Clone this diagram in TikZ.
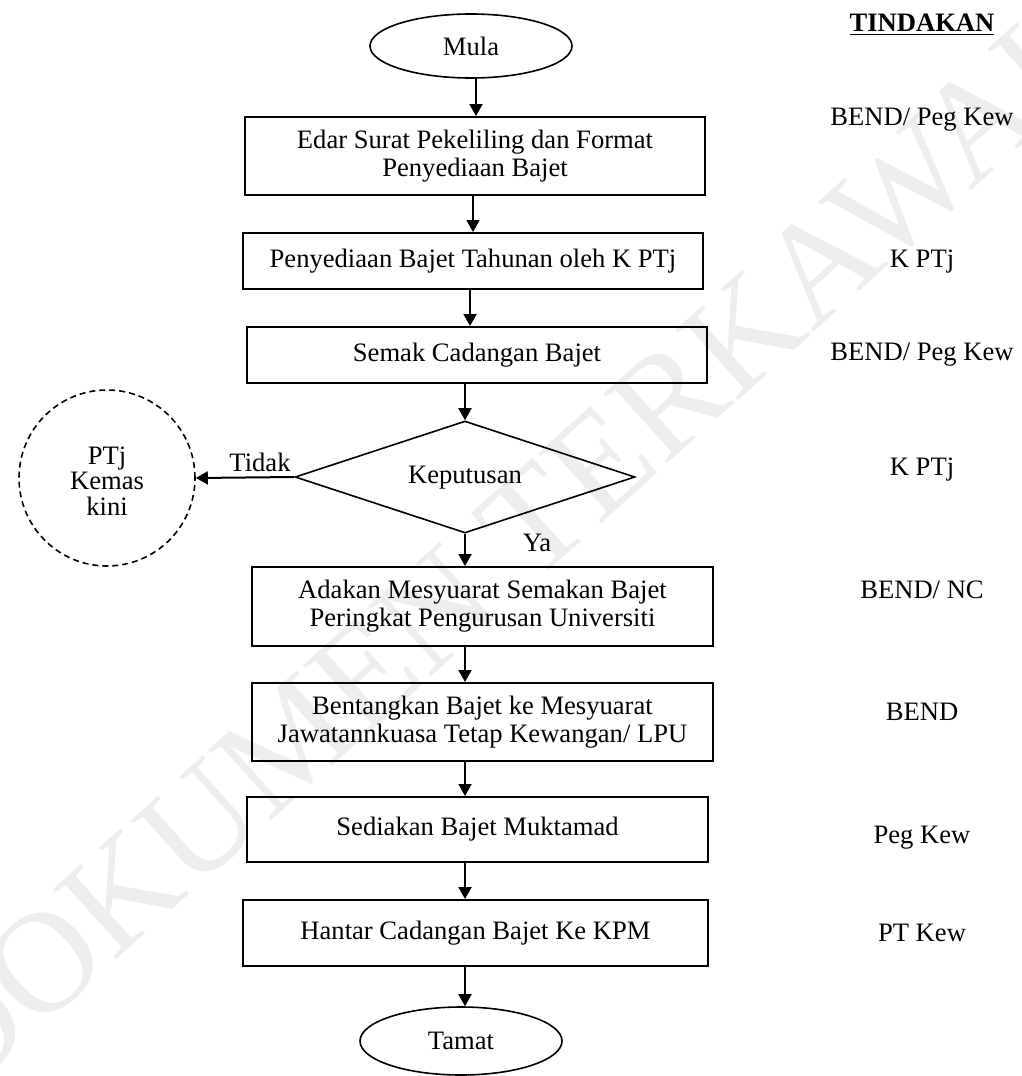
\documentclass[tikz,border=0pt]{standalone}
\usepackage{fontspec}
\setmainfont{Liberation Serif}
\usetikzlibrary{shapes.geometric,arrows.meta}
\begin{document}
\begin{tikzpicture}[x=0.5pt,y=-0.5pt,
  every node/.style={font=\fontsize{13.3}{14}\selectfont, inner sep=0pt},
  box/.style={draw, line width=1pt, rectangle, align=center},
  term/.style={draw, ellipse, line width=0.8pt},
  arr/.style={line width=1pt, -{Triangle[length=6pt,width=6.5pt]}},
  side/.style={anchor=center},
  wmark/.style={rotate=42, text=black!7, font=\fontsize{72}{72}\selectfont}
]
\useasboundingbox (0,0) rectangle (1022,1076);
\node[wmark] (wm) at (505,548) {DOKUMEN TERKAWAL};

% axis coordinates for the connectors
\coordinate (a1) at (476,0);
\coordinate (a2) at (473,0);
\coordinate (a3) at (470,0);
\coordinate (a4) at (466,0);
\coordinate (a5) at (465,0);

\node[term, minimum width=101pt, minimum height=32pt] (mula) at (471,46) {Mula};
\node[box, minimum width=230pt, minimum height=39pt] (b1) at (475,156) {Edar Surat Pekeliling dan Format\\Penyediaan Bajet};
\node[box, minimum width=230pt, minimum height=28pt] (b2) at (473,261) {Penyediaan Bajet Tahunan oleh K PTj};
\node[box, minimum width=230pt, minimum height=28pt] (b3) at (477,355) {Semak Cadangan Bajet};
\node[draw, diamond, shape aspect=3, minimum width=170pt, minimum height=56pt, line width=0.8pt] (dia) at (465,477) {};
\node (diat) at (465,478) {Keputusan};
\node[draw, dash pattern=on 3pt off 2pt, circle, minimum size=88pt, line width=0.8pt] (ptj) at (107,478) {};
\node[align=center, font=\fontsize{13.3}{12.7}\selectfont] (ptjt) at (107,481) {PTj\\Kemas\\kini};
\node[box, minimum width=230.5pt, minimum height=39.5pt] (b4) at (482.5,606.5) {Adakan Mesyuarat Semakan Bajet\\Peringkat Pengurusan Universiti};
\node[box, minimum width=230.5pt, minimum height=39pt] (b5) at (482.5,722) {Bentangkan Bajet ke Mesyuarat\\Jawatannkuasa Tetap Kewangan/ LPU};
\node[box, minimum width=230.5pt, minimum height=32.5pt] (b6) at (477.5,829.5) {Sediakan Bajet Muktamad};
\node[box, minimum width=232.5pt, minimum height=33pt] (b7) at (475.5,933) {Hantar Cadangan Bajet Ke KPM};
\node[term, minimum width=101pt, minimum height=34pt] (tamat) at (461,1041) {Tamat};

\draw[arr] (mula.south -| a1) -- (b1.north -| a1);
\draw[arr] (b1.south -| a2) -- (b2.north -| a2);
\draw[arr] (b2.south -| a3) -- (b3.north -| a3);
\draw[arr] (b3.south -| dia.north) -- (dia.north);
\draw[arr] (dia.south) -- (b4.north -| dia.south);
\draw[arr] (b4.south -| a5) -- (b5.north -| a5);
\draw[arr] (b5.south -| a5) -- (b6.north -| a5);
\draw[arr] (b6.south -| a5) -- (b7.north -| a5);
\draw[arr] (b7.south -| a5) -- (tamat.north -| a5);
\draw[arr] (dia.west) -- (ptj.east);
\node (tidak) at (260,462) {Tidak};
\node (ya) at (537,543) {Ya};

\node (hd) at (922,25) {\underline{\textbf{TINDAKAN}}};
\node[side] (r1) at (922,120) {BEND/ Peg Kew};
\node[side] (r2) at (922,262) {K PTj};
\node[side] (r3) at (922,355) {BEND/ Peg Kew};
\node[side] (r4) at (922,470) {K PTj};
\node[side] (r5) at (922,590) {BEND/ NC};
\node[side] (r6) at (922,712) {BEND};
\node[side] (r7) at (922,838) {Peg Kew};
\node[side] (r8) at (922,933) {PT Kew};
\end{tikzpicture}
\end{document}
